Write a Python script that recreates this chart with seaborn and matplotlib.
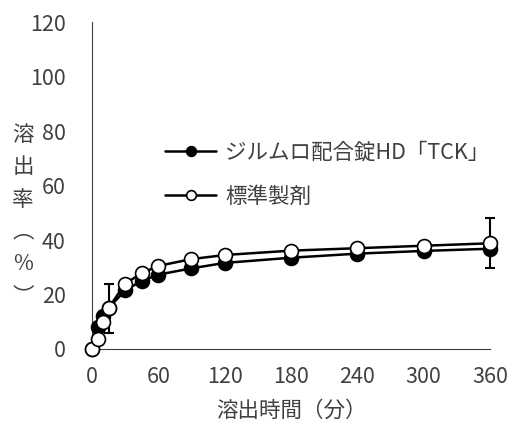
import seaborn as sns
import matplotlib.pyplot as plt
import pandas as pd
import numpy as np

# --- data ---
times = [0, 5, 10, 15, 30, 45, 60, 90, 120, 180, 240, 300, 360]
test_vals = [0, 8.0, 12.0, 15.0, 21.5, 25.0, 27.3, 29.6, 31.6, 33.5, 35.0, 36.0, 36.8]
ref_vals = [0, 3.5, 10.0, 15.0, 24.0, 27.8, 30.5, 33.0, 34.5, 36.1, 37.0, 37.9, 38.8]
test_sd = [np.nan, np.nan, np.nan, 9.0, np.nan, np.nan, np.nan, np.nan, np.nan, np.nan, np.nan, np.nan, np.nan]
ref_sd = [np.nan, np.nan, np.nan, np.nan, np.nan, np.nan, np.nan, np.nan, np.nan, np.nan, np.nan, np.nan, 9.2]

test_label = "ジルムロ配合錠HD「TCK」"
ref_label = "標準製剤"
x_ticks = [0, 60, 120, 180, 240, 300, 360]
y_ticks = [0, 20, 40, 60, 80, 100, 120]

df = pd.DataFrame({"time": times, "test": test_vals, "ref": ref_vals,
                   "test_sd": test_sd, "ref_sd": ref_sd})

# --- styling ---
sns.set_style("white")
plt.rcParams["font.family"] = ["Noto Sans CJK JP", "DejaVu Sans"]
text_col = "#404040"
axis_col = "#404040"
fs = 15.5

fig = plt.figure(figsize=(5.15, 4.33), dpi=100)
ax = fig.add_axes([0.1786, 0.194, 0.7728, 0.755])

# error bars first, markers on top
ax.errorbar(df["time"], df["test"], yerr=df["test_sd"], fmt="none",
            ecolor="black", elinewidth=1.5, capsize=3.5, capthick=1.5,
            zorder=2, clip_on=False)
ax.errorbar(df["time"], df["ref"], yerr=df["ref_sd"], fmt="none",
            ecolor="black", elinewidth=1.5, capsize=3.5, capthick=1.5,
            zorder=2, clip_on=False)

sns.lineplot(data=df, x="time", y="test", ax=ax, color="black", lw=1.8,
             marker="o", markersize=10, markerfacecolor="black",
             markeredgecolor="black", markeredgewidth=1.2,
             label=test_label, zorder=3, clip_on=False)
sns.lineplot(data=df, x="time", y="ref", ax=ax, color="black", lw=1.8,
             marker="o", markersize=10, markerfacecolor="white",
             markeredgecolor="black", markeredgewidth=1.2,
             label=ref_label, zorder=4, clip_on=False)

ax.set_xlim(0, 360)
ax.set_ylim(0, 120)
ax.set_xticks(x_ticks)
ax.set_yticks(y_ticks)
ax.tick_params(direction="in", length=4, width=0.8, color=axis_col,
               labelsize=fs, labelcolor=text_col)
ax.tick_params(axis="x", pad=12)
ax.tick_params(axis="y", pad=19)

for side in ["top", "right"]:
    ax.spines[side].set_visible(False)
for side in ["left", "bottom"]:
    ax.spines[side].set_color(axis_col)
    ax.spines[side].set_linewidth(0.8)

ax.set_xlabel("溶出時間（分）", fontsize=fs, color=text_col, labelpad=9)
ax.set_ylabel("")
fig.text(0.045, 0.502, "溶\n出\n率\n︵\n%\n︶", fontsize=fs, color=text_col,
         ha="center", va="center", linespacing=1.6)

leg = ax.legend(loc="center left", bbox_to_anchor=(0.183, 0.534),
                frameon=False, fontsize=fs, handlelength=2.4,
                handletextpad=0.4, labelspacing=1.05, borderpad=0,
                borderaxespad=0, markerscale=0.7)
for t in leg.get_texts():
    t.set_color(text_col)

plt.savefig("out.png", dpi=100)
